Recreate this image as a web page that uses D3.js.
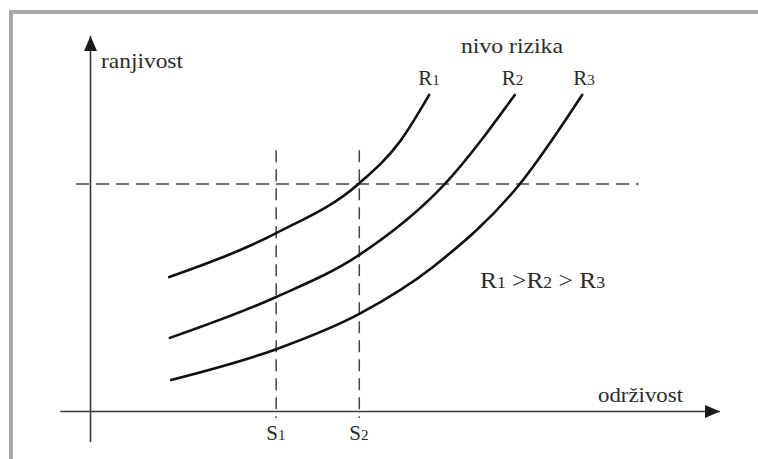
<!DOCTYPE html>
<html>
<head>
<meta charset="utf-8">
<script src="https://cdn.jsdelivr.net/npm/d3@7"></script>
<style>
  html, body { margin: 0; padding: 0; background: #fff; }
  svg { display: block; }
  text { font-family: "Liberation Serif", "Times New Roman", serif; fill: #2b2b2b; }
</style>
</head>
<body>
<div id="chart"></div>
<script>
// Risk curves: vulnerability (ranjivost) vs. sustainability (održivost)
const curveNames = ["R1", "R2", "R3"];

const r1X = [12.5, 29.5, 42.7, 49.2, 53.8];
const r1Y = [35.8, 47.5, 60.8, 72.0, 84.3];

const r2X = [12.6, 29.5, 42.7, 56.3, 67.4];
const r2Y = [19.6, 30.5, 41.7, 60.6, 84.3];

const r3X = [12.8, 29.5, 42.7, 54.4, 68.2, 78.1];
const r3Y = [8.4, 16.6, 26.0, 38.5, 60.6, 84.3];

// reference levels
const sLevels = [29.5, 42.7];
const sLabels = ["S1", "S2"];
const riskLevel = 60.6;

const xTitle = "održivost";
const yTitle = "ranjivost";
const legendTitle = "nivo rizika";

const width = 758, height = 459;

const svg = d3.select("#chart")
    .append("svg")
    .attr("width", width)
    .attr("height", height);

// grey frame (top and left edges visible)
svg.append("rect").attr("x", 9).attr("y", 10).attr("width", width - 9).attr("height", 4).attr("fill", "#a9a9a9");
svg.append("rect").attr("x", 9).attr("y", 10).attr("width", 4).attr("height", height - 10).attr("fill", "#a9a9a9");

// Scales
const x = d3.scaleLinear().domain([0, 100]).range([90.5, 720]);
const y = d3.scaleLinear().domain([0, 100]).range([411.5, 36]);

// Arrow marker
const defs = svg.append("defs");
defs.append("marker")
    .attr("id", "arrow")
    .attr("viewBox", "0 0 15 13")
    .attr("refX", 15)
    .attr("refY", 6.5)
    .attr("markerWidth", 15)
    .attr("markerHeight", 13)
    .attr("markerUnits", "userSpaceOnUse")
    .attr("orient", "auto")
    .append("path")
    .attr("d", "M0,0 L15,6.5 L0,13 Z")
    .attr("fill", "#1a1a1a");

// Axes
svg.append("line")
    .attr("x1", x(-4.8)).attr("y1", y(0))
    .attr("x2", x(100)).attr("y2", y(0))
    .attr("stroke", "#3a3a3a")
    .attr("stroke-width", 1.6)
    .attr("marker-end", "url(#arrow)");

svg.append("line")
    .attr("x1", x(0)).attr("y1", y(-8.1))
    .attr("x2", x(0)).attr("y2", y(100))
    .attr("stroke", "#3a3a3a")
    .attr("stroke-width", 1.6)
    .attr("marker-end", "url(#arrow)");

// Dashed guides
svg.append("line")
    .attr("x1", x(-2.3)).attr("y1", y(riskLevel))
    .attr("x2", x(87.1)).attr("y2", y(riskLevel))
    .attr("stroke", "#444")
    .attr("stroke-width", 1.5)
    .attr("stroke-dasharray", "13,7");

svg.selectAll(".s-line")
    .data(sLevels)
    .enter()
    .append("line")
    .attr("class", "s-line")
    .attr("x1", d => x(d)).attr("y1", y(69.6))
    .attr("x2", d => x(d)).attr("y2", y(-1.7))
    .attr("stroke", "#444")
    .attr("stroke-width", 1.5)
    .attr("stroke-dasharray", "12,7");

// Curves
const series = [
    { name: curveNames[0], values: r1X.map((v, i) => ({ x: v, y: r1Y[i] })) },
    { name: curveNames[1], values: r2X.map((v, i) => ({ x: v, y: r2Y[i] })) },
    { name: curveNames[2], values: r3X.map((v, i) => ({ x: v, y: r3Y[i] })) }
];

const line = d3.line()
    .x(d => x(d.x))
    .y(d => y(d.y))
    .curve(d3.curveMonotoneX);

svg.selectAll(".risk-curve")
    .data(series)
    .enter()
    .append("path")
    .attr("class", "risk-curve")
    .attr("d", d => line(d.values))
    .attr("fill", "none")
    .attr("stroke", "#111")
    .attr("stroke-width", 2.6)
    .attr("stroke-linecap", "round");

// Helper for "R1" style labels (small digit on baseline)
function subLabel(g, px, py, main, digit, size) {
    const t = g.append("text")
        .attr("x", px)
        .attr("y", py)
        .attr("font-size", size + "px");
    t.append("tspan").text(main);
    t.append("tspan").attr("font-size", (size * 0.72) + "px").text(digit);
    return t;
}

// Curve labels above the tips
const labelOffsets = [-11, -13, -9];
series.forEach((s, i) => {
    const tip = s.values[s.values.length - 1];
    subLabel(svg, x(tip.x) + labelOffsets[i], 85, "R", s.name.slice(1), 21);
});

// S labels under the x axis
sLevels.forEach((s, i) => {
    subLabel(svg, x(s) - 10, 440, "S", sLabels[i].slice(1), 21);
});

// Axis titles
svg.append("text")
    .attr("x", 101).attr("y", 68)
    .attr("font-size", "22px")
    .attr("textLength", 82)
    .attr("lengthAdjust", "spacingAndGlyphs")
    .text(yTitle);

svg.append("text")
    .attr("x", 598).attr("y", 402)
    .attr("font-size", "22px")
    .attr("textLength", 85)
    .attr("lengthAdjust", "spacingAndGlyphs")
    .text(xTitle);

svg.append("text")
    .attr("x", 461).attr("y", 53)
    .attr("font-size", "22px")
    .attr("textLength", 102)
    .attr("lengthAdjust", "spacingAndGlyphs")
    .text(legendTitle);

// Ordering note
const order = svg.append("text")
    .attr("x", 480).attr("y", 288)
    .attr("font-size", "23px")
    .attr("textLength", 125)
    .attr("lengthAdjust", "spacingAndGlyphs");
order.append("tspan").text("R");
order.append("tspan").attr("font-size", "16px").text("1");
order.append("tspan").text(" >R");
order.append("tspan").attr("font-size", "16px").text("2");
order.append("tspan").text(" > R");
order.append("tspan").attr("font-size", "16px").text("3");
</script>
</body>
</html>
